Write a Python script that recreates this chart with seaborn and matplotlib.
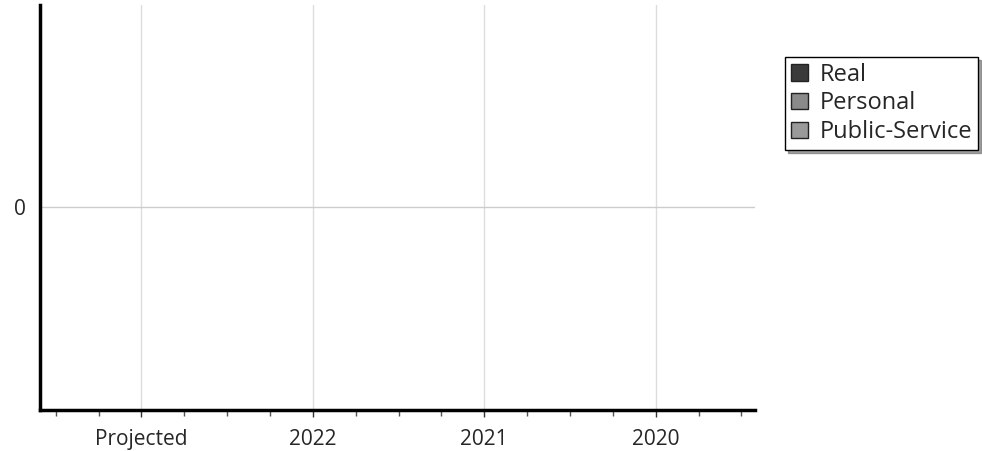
import matplotlib
matplotlib.use("Agg")
import matplotlib.pyplot as plt
import seaborn as sns
import pandas as pd
from matplotlib.ticker import MultipleLocator

# data (all series are zero in the reference)
categories = ["Projected", "2022", "2021", "2020"]
real = [0, 0, 0, 0]
personal = [0, 0, 0, 0]
public_service = [0, 0, 0, 0]

series_names = ["Real", "Personal", "Public-Service"]
series_colors = ["#3a3a3a", "#8a8a8a", "#9a9a9a"]

rows = []
for name, vals in zip(series_names, [real, personal, public_service]):
    for cat, v in zip(categories, vals):
        rows.append({"year": cat, "value": v, "series": name})
df = pd.DataFrame(rows)

sns.set_style("white")
plt.rcParams["font.family"] = ["Open Sans", "DejaVu Sans"]

fig = plt.figure(figsize=(9.82, 4.51), dpi=100)
ax = fig.add_axes([0.041, 0.091, 0.728, 0.898])

sns.barplot(data=df, x="year", y="value", hue="series", order=categories,
            hue_order=series_names, palette=series_colors, ax=ax,
            linewidth=0)

ax.set_xlim(-0.59, 3.58)
ax.set_ylim(-1, 1)
ax.set_yticks([0])
ax.set_xlabel("")
ax.set_ylabel("")

# grid
for x in range(len(categories)):
    ax.axvline(x, color="#dddddd", linewidth=1, zorder=0)
ax.axhline(0, color="#cccccc", linewidth=1, zorder=0)

ax.xaxis.set_minor_locator(MultipleLocator(0.25))
ax.tick_params(axis="x", which="major", length=5, width=1, color="#333333",
               labelsize=15, pad=9)
ax.tick_params(axis="x", which="minor", length=4, width=1, color="#555555")
ax.tick_params(axis="y", length=4, width=1, color="#777777", labelsize=15,
               pad=6)
ax.tick_params(bottom=True, which="both")

sns.despine(ax=ax, top=True, right=True)
ax.spines["left"].set_linewidth(2.5)
ax.spines["bottom"].set_linewidth(2.5)
ax.spines["left"].set_color("black")
ax.spines["bottom"].set_color("black")

leg = ax.legend(loc="upper left", bbox_to_anchor=(1.042, 0.872), frameon=True,
                fancybox=False, shadow=True, fontsize=17, handlelength=0.7,
                handleheight=0.7, handletextpad=0.5, borderpad=0.25,
                labelspacing=0.2, borderaxespad=0)
leg.get_frame().set_edgecolor("black")
leg.get_frame().set_linewidth(1)
for h in leg.legend_handles:
    h.set_edgecolor("#222222")
    h.set_linewidth(1)

fig.savefig("out.png", dpi=100)
